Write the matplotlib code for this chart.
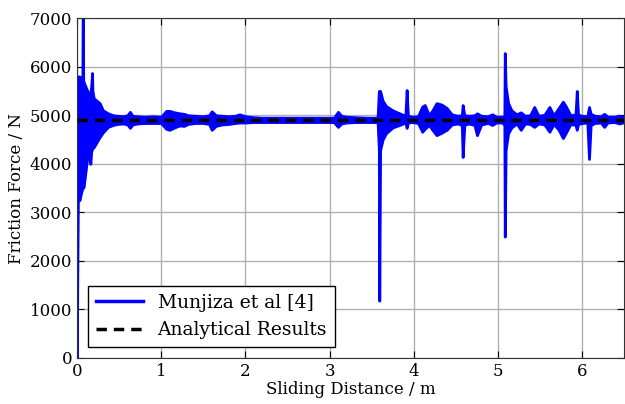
import numpy as np
import matplotlib
matplotlib.use('Agg')
import matplotlib.pyplot as plt

plt.rcParams['font.family'] = 'DejaVu Serif'

# envolvente de la fuerza de friccion (N) frente a la distancia deslizada (m)
dist = [0.000, 0.010, 0.030, 0.050, 0.065, 0.070, 0.075, 0.080, 0.100, 0.120,
        0.150, 0.160, 0.170, 0.180, 0.185, 0.200, 0.270, 0.310, 0.370, 0.430,
        0.480, 0.550, 0.600, 0.630, 0.660, 0.720, 0.800, 0.900, 1.000, 1.060,
        1.100, 1.160, 1.220, 1.270, 1.320, 1.400, 1.500, 1.570, 1.600, 1.650,
        1.720, 1.800, 1.880, 1.930, 2.000, 2.100, 2.200, 2.400, 3.050, 3.100,
        3.140, 3.200, 3.300, 3.450, 3.570, 3.585, 3.590, 3.600, 3.630, 3.670,
        3.750, 3.830, 3.900, 3.915, 3.930, 3.980, 4.050, 4.100, 4.130, 4.180,
        4.220, 4.270, 4.330, 4.390, 4.450, 4.520, 4.570, 4.580, 4.600, 4.650,
        4.720, 4.750, 4.800, 4.880, 4.930, 4.980, 5.050, 5.075, 5.080, 5.090,
        5.120, 5.160, 5.220, 5.270, 5.320, 5.380, 5.430, 5.480, 5.550, 5.610,
        5.660, 5.720, 5.770, 5.800, 5.860, 5.920, 5.935, 5.950, 6.000, 6.060,
        6.080, 6.100, 6.150, 6.220, 6.260, 6.300, 6.380, 6.440, 6.500]
f_sup = [0, 5800, 5800, 5750, 5700, 7600, 5700, 5690, 5600, 5520,
         5400, 5450, 5600, 5870, 5500, 5350, 5250, 5100, 5040, 5000,
         4990, 4980, 5000, 5070, 4990, 4980, 4970, 4980, 4970, 5090,
         5090, 5060, 5040, 5030, 5000, 4990, 4980, 5000, 5080, 5000,
         4990, 4980, 4990, 5020, 4980, 4960, 4950, 4950, 4950, 5070,
         4990, 4970, 4960, 4950, 4950, 5500, 5500, 5500, 5300, 5190,
         5100, 5040, 4990, 5520, 4990, 4970, 4980, 5180, 5210, 5000,
         5100, 5250, 5220, 5150, 5020, 4990, 5000, 5210, 5000, 4990,
         5000, 5040, 4990, 4980, 5020, 4970, 4970, 4980, 6280, 5600,
         5250, 5100, 5020, 5060, 4990, 5000, 5170, 4990, 5010, 5170,
         5000, 5150, 5280, 5200, 5000, 5020, 5500, 5010, 4990, 4980,
         5170, 5030, 4990, 4980, 5030, 4970, 4970, 4990, 4970]
f_inf = [0, 3500, 3250, 3400, 3500, 3500, 3520, 3520, 3800, 4080,
         4200, 4000, 4250, 4300, 4330, 4340, 4550, 4650, 4760, 4800,
         4820, 4830, 4810, 4740, 4810, 4830, 4840, 4840, 4840, 4720,
         4700, 4750, 4790, 4780, 4820, 4840, 4840, 4820, 4700, 4780,
         4810, 4820, 4840, 4850, 4850, 4860, 4860, 4860, 4860, 4760,
         4830, 4850, 4860, 4860, 4860, 4300, 1180, 4280, 4500, 4630,
         4750, 4800, 4850, 4740, 4850, 4860, 4840, 4660, 4720, 4800,
         4700, 4590, 4640, 4700, 4810, 4830, 4800, 4140, 4800, 4830,
         4800, 4590, 4810, 4840, 4800, 4850, 4850, 4800, 2500, 4280,
         4630, 4750, 4830, 4700, 4830, 4820, 4760, 4830, 4810, 4660,
         4820, 4700, 4530, 4620, 4820, 4800, 4700, 4820, 4840, 4850,
         4100, 4800, 4840, 4850, 4760, 4850, 4860, 4830, 4860]

f_analitica = 4900  # valor analitico de la fuerza de friccion

fig = plt.figure(figsize=(6.25, 4.04), dpi=100)
ax = fig.add_axes([0.123, 0.114, 0.876, 0.841])

ax.fill_between(dist, f_inf, f_sup, facecolor='#0000ff', edgecolor='#0000ff',
                linewidth=2.0, zorder=2)
ax.plot([], [], color='#0000ff', linewidth=2.5, label='Munjiza et al [4]')
ax.axhline(f_analitica, color='k', linestyle='--', linewidth=2.5,
           dashes=(3, 2), label='Analytical Results', zorder=3)

ax.set_xlim(0, 6.5)
ax.set_ylim(0, 7000)
ax.set_xticks([0, 1, 2, 3, 4, 5, 6])
ax.set_yticks(np.arange(0, 7001, 1000))
ax.tick_params(direction='in', top=True, right=True, labelsize=12, length=5)
ax.grid(True, color='#b0b0b0', linestyle='-', linewidth=1.0)
ax.set_axisbelow(True)
for s in ax.spines.values():
    s.set_color('#333333')

ax.set_xlabel('Sliding Distance / m', fontsize=12, labelpad=1)
ax.set_ylabel('Friction Force / N', fontsize=12, labelpad=3)

leg = ax.legend(loc='lower left', fontsize=13.5, fancybox=False,
                framealpha=1.0, borderaxespad=0.6, handlelength=2.5)
leg.get_frame().set_edgecolor('k')

fig.savefig('out.png', dpi=100)
